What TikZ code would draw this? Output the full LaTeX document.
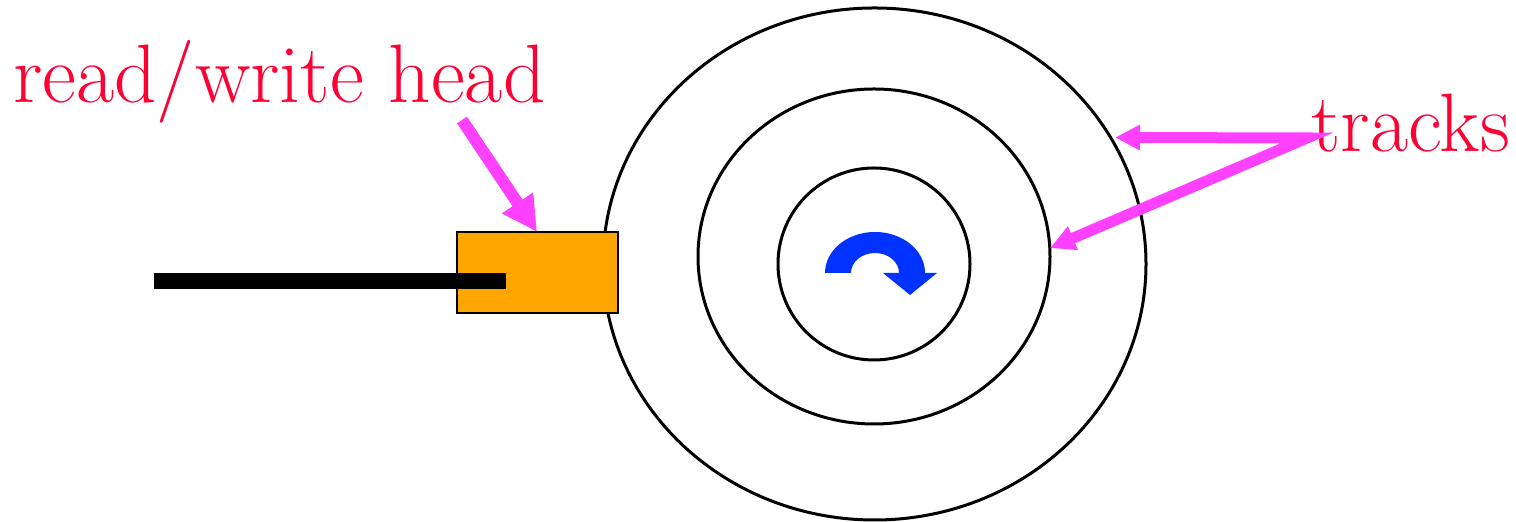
\documentclass[tikz,border=0pt]{standalone}
\usetikzlibrary{arrows.meta}
\definecolor{labelred}{RGB}{255,0,51}
\definecolor{pinkarrow}{RGB}{255,64,255}
\definecolor{spinblue}{RGB}{0,51,255}
\definecolor{headorange}{RGB}{255,165,0}
\tikzset{
  track/.style={draw=black, line width=1.5pt},
  label/.style={text=labelred, font=\fontsize{41.5}{48}\selectfont, inner sep=0pt, anchor=base west},
  bigpointer/.style={draw=pinkarrow, line width=6pt, -{Triangle[length=17.5pt,width=17.5pt]}},
  smallpointer/.style={draw=pinkarrow, line width=5.5pt, line join=miter, {Triangle[length=12.5pt,width=12pt]}-{Triangle[length=12.5pt,width=12pt]}},
}
\begin{document}
\begin{tikzpicture}[x=0.5pt,y=0.5pt]
\useasboundingbox (0,0) rectangle (1516,522);
% disk tracks
\draw[track] (874.5,258) ellipse [x radius=271.5, y radius=256];
\draw[track] (874,265.5) ellipse [x radius=176, y radius=167.5];
\draw[track] (874,258) ellipse [x radius=96, y radius=96];
% head
\node[draw=black, line width=1.2pt, fill=headorange, minimum width=80.5pt, minimum height=40.5pt, inner sep=0pt] (head) at (537.5,249.5) {};
\node[fill=black, minimum width=176pt, minimum height=8pt, inner sep=0pt] (arm) at (330,241) {};
% spin arrow
\fill[spinblue] (825,249) arc[start angle=180, end angle=0, x radius=50, y radius=41]
  -- (937,249) -- (910,227) -- (883,249) -- (899,249)
  arc[start angle=0, end angle=180, x radius=24, y radius=20] -- cycle;
% labels
\node[label] (rw) at (13,419) {read/write head};
\node[label] (tracks) at (1311,370) {tracks};
% pointers
\coordinate (rwstart) at (462,402);
\coordinate (rwtip) at (537,290);
\coordinate (vtx) at (1307,384);
\coordinate (tipA) at (1115,384.5);
\coordinate (tipB) at (1050,274);
\draw[bigpointer] (rwstart) -- (rwtip);
\draw[smallpointer] (tipA) -- (vtx) -- (tipB);
\end{tikzpicture}
\end{document}
